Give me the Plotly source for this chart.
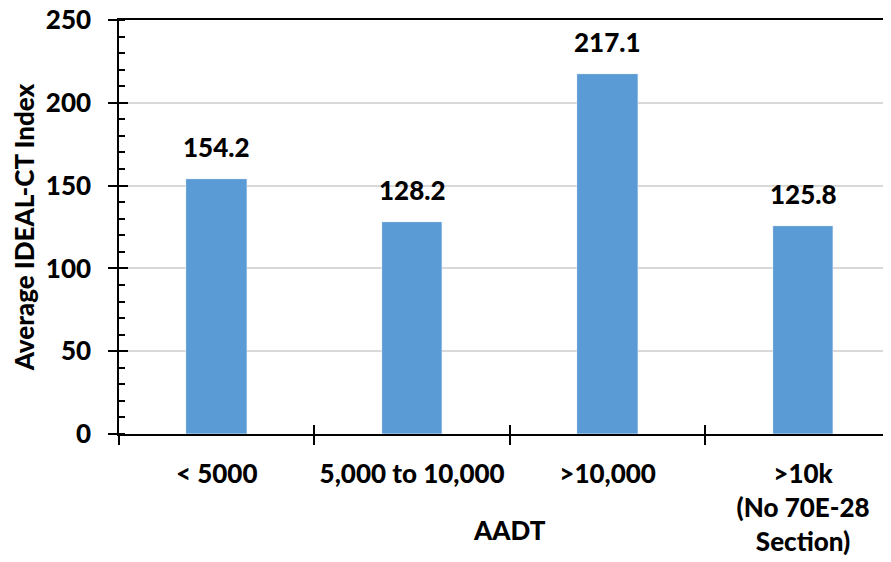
import plotly.graph_objects as go

categories = ["< 5000", "5,000 to 10,000", ">10,000", ">10k<br>(No 70E-28<br>Section)"]
values = [154.2, 128.2, 217.1, 125.8]
value_labels = ["154.2", "128.2", "217.1", "125.8"]
y_ticks = [0, 50, 100, 150, 200, 250]
y_title = "Average IDEAL-CT Index"
x_title = "AADT"

FONT = "Lato"
FS = 26
WT = 900
BAR = "#5B9BD5"

def f():
    return dict(family=FONT, size=FS, color="black", weight=WT)

fig = go.Figure()
fig.add_trace(go.Bar(x=categories, y=values, marker=dict(color=BAR, line=dict(width=0)),
                     width=0.31, hoverinfo="skip", showlegend=False))
# helper trace to carry the inner halves of the crossing ticks
fig.add_trace(go.Bar(x=categories, y=values, xaxis="x2", yaxis="y2",
                     marker=dict(color="rgba(0,0,0,0)"), width=0.31,
                     hoverinfo="skip", showlegend=False))

xr = [-0.5, 3.45]
fig.update_layout(
    width=883, height=554,
    margin=dict(l=111, r=0, t=12, b=128),
    paper_bgcolor="white", plot_bgcolor="white",
    font=f(),
    bargap=0,
    xaxis=dict(type="category", range=xr, tickson="boundaries", ticks="outside",
               ticklen=9, tickwidth=1.5, tickcolor="black", automargin=False,
               showline=True, linecolor="black", linewidth=1.5, mirror=True,
               showgrid=False, tickfont=f(), ticklabeloverflow="allow",
               ticklabelstandoff=16),
    xaxis2=dict(type="category", range=xr, overlaying="x", tickson="boundaries",
                ticks="inside", ticklen=9, tickwidth=1.5, tickcolor="black",
                automargin=False,
                showticklabels=False, showline=False, showgrid=False, side="bottom"),
    yaxis=dict(range=[0, 250], ticks="outside", ticklen=9, tickwidth=1.5,
               tickcolor="black", showline=True, linecolor="black", linewidth=1.5,
               showgrid=True, gridcolor="#D9D9D9", gridwidth=1.5, zeroline=False,
               automargin=False, ticklabeloverflow="allow",
               tickmode="array", tickvals=y_ticks,
               minor=dict(dtick=10, ticks="inside", ticklen=6, tickwidth=1.5,
                          tickcolor="black", showgrid=False),
               tickfont=f(),
               ticklabelstandoff=12,
               title=dict(text=y_title, font=f(), standoff=9)),
    yaxis2=dict(range=[0, 250], overlaying="y", dtick=50, ticks="inside", ticklen=9,
                tickwidth=1.5, tickcolor="black", showticklabels=False,
                automargin=False,
                showline=False, showgrid=False, zeroline=False, side="left"),
    xaxis3=dict(range=[0, 1], overlaying="x", side="top", showline=True,
                linecolor="black", linewidth=1.5, ticks="", showticklabels=False,
                showgrid=False, zeroline=False, automargin=False),
)
# carrier for the top frame line
fig.add_trace(go.Scatter(x=[], y=[], xaxis="x3", yaxis="y", showlegend=False,
                         hoverinfo="skip"))

for c, v, t in zip(categories, values, value_labels):
    fig.add_annotation(x=c, y=v, xref="x", yref="y", text=t,
                       showarrow=False, yanchor="bottom", yshift=14, font=f())

fig.add_annotation(x=1.5, y=0, xref="x", yref="paper", yanchor="top", yshift=-78,
                   text=x_title, showarrow=False, font=f())

fig.write_html("out.html")
